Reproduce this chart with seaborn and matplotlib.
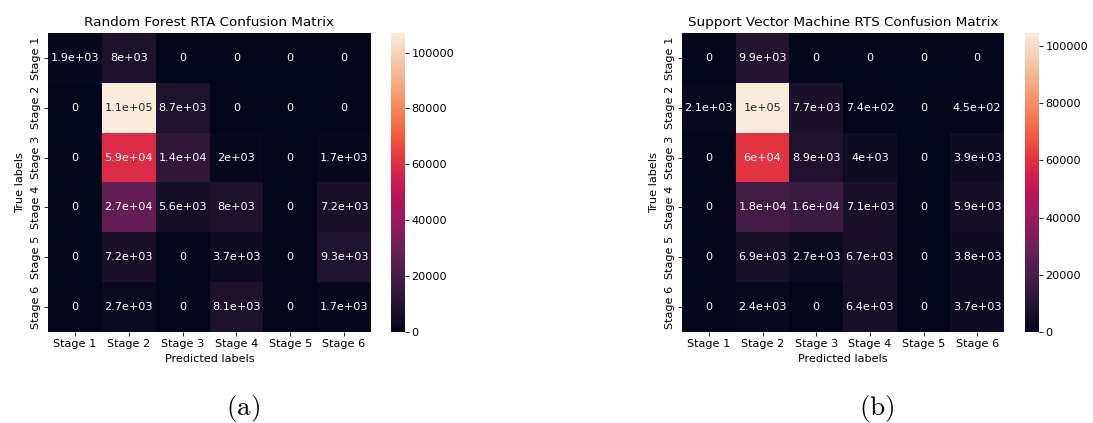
import numpy as np
import matplotlib
matplotlib.use("Agg")
import matplotlib.pyplot as plt
import seaborn as sns

stages = ["Stage 1", "Stage 2", "Stage 3", "Stage 4", "Stage 5", "Stage 6"]

rf_counts = [
    [1900, 8000, 0, 0, 0, 0],
    [0, 107000, 8700, 0, 0, 0],
    [0, 59000, 14000, 2000, 0, 1700],
    [0, 27000, 5600, 8000, 0, 7200],
    [0, 7200, 0, 3700, 0, 9300],
    [0, 2700, 0, 8100, 0, 1700],
]

svm_counts = [
    [0, 9900, 0, 0, 0, 0],
    [2100, 104600, 7700, 740, 0, 450],
    [0, 60000, 8900, 4000, 0, 3900],
    [0, 18000, 16000, 7100, 0, 5900],
    [0, 6900, 2700, 6700, 0, 3800],
    [0, 2400, 0, 6400, 0, 3700],
]

titles = ["Random Forest RTA Confusion Matrix",
          "Support Vector Machine RTS Confusion Matrix"]
captions = ["(a)", "(b)"]

plt.rcParams["mathtext.fontset"] = "cm"

W, H = 1093, 423
fig = plt.figure(figsize=(W / 100, H / 100), dpi=100)


def box(x0, x1, y0, y1):
    return [x0 / W, 1 - y1 / H, (x1 - x0) / W, (y1 - y0) / H]


panels = [
    (rf_counts, box(48, 371, 33, 332), box(391, 405, 33, 332), 243),
    (svm_counts, box(682, 1004, 33, 332), box(1025, 1039, 33, 332), 877),
]

fs = 8.1
for (counts, hm_box, cb_box, cx), title, cap in zip(panels, titles, captions):
    ax = fig.add_axes(hm_box)
    cax = fig.add_axes(cb_box)
    sns.heatmap(np.array(counts), annot=True, fmt=".2g", ax=ax, cbar_ax=cax,
                xticklabels=stages, yticklabels=stages,
                annot_kws={"fontsize": fs})
    ax.set_title(title, fontsize=9.7, pad=5)
    ax.set_xlabel("Predicted labels", fontsize=fs, labelpad=3)
    ax.set_ylabel("True labels", fontsize=fs, labelpad=4)
    ax.tick_params(axis="both", labelsize=fs, length=2.8, width=0.6, pad=2.5)
    for t in ax.get_yticklabels():
        t.set_rotation(90)
        t.set_va("center")
    for t in ax.get_xticklabels():
        t.set_rotation(0)
    cax.tick_params(labelsize=fs, length=2.8, width=0.6, pad=2)
    cax.set_yticks([0, 20000, 40000, 60000, 80000, 100000])
    fig.text(cx / W, 1 - 408 / H, r"$\mathrm{" + cap + "}$",
             ha="center", va="center", fontsize=19.5)

fig.savefig("out.png", dpi=100)
